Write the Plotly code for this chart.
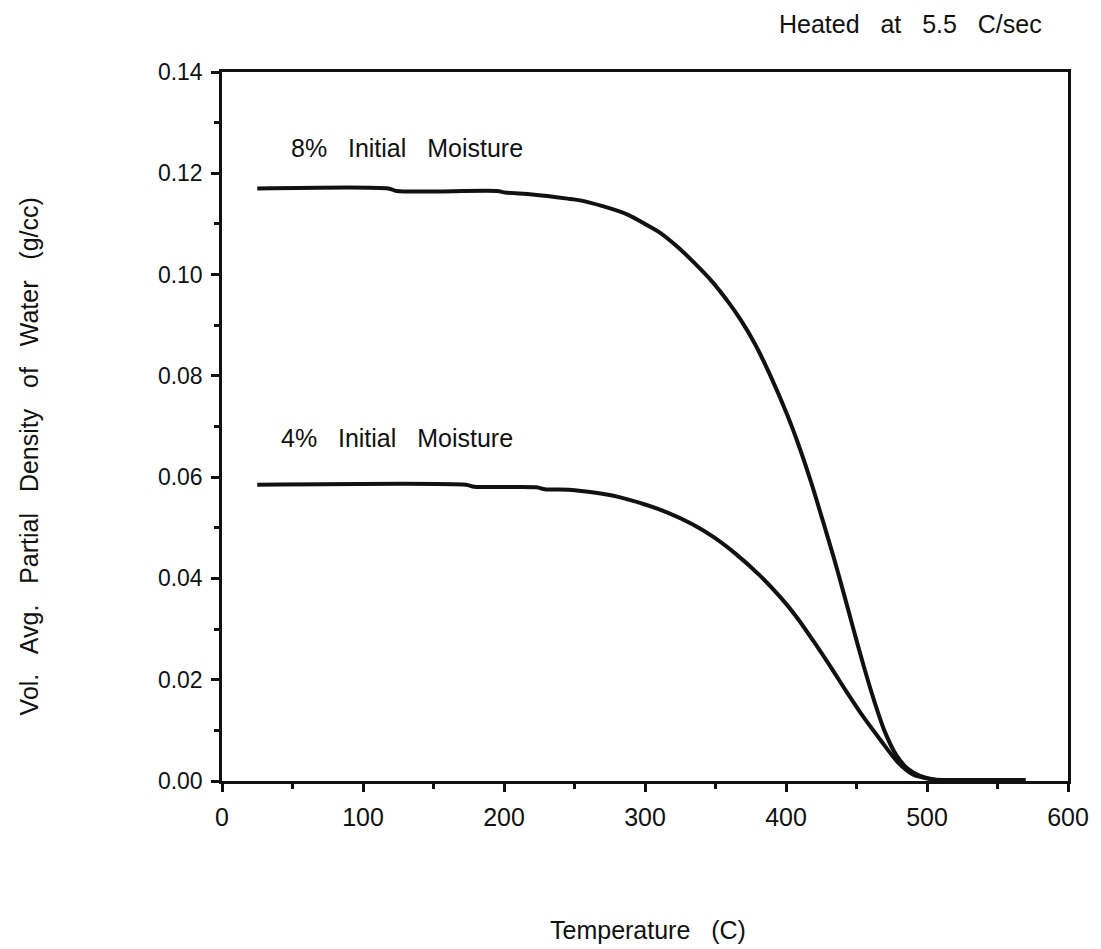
import plotly.graph_objects as go

# Temperature (C) and vol. avg. partial density of water (g/cc)
temp_8 = [25, 118, 124, 195, 201, 220, 245, 253, 270, 288, 300, 311, 323, 335, 347, 359, 368,
          378, 389, 401, 410, 418, 426, 434, 441, 448, 455, 462, 470, 478, 486, 495, 505, 520, 570]
dens_8 = [0.1170, 0.1170, 0.1165, 0.1165, 0.1162, 0.1158, 0.1150, 0.1147, 0.1135, 0.1118, 0.1100,
          0.1082, 0.1055, 0.1023, 0.0988, 0.0946, 0.0910, 0.0863, 0.0800, 0.0722, 0.0655,
          0.0588, 0.0515, 0.0440, 0.0370, 0.0298, 0.0228, 0.0163, 0.0098, 0.0052, 0.0025,
          0.0010, 0.0003, 0.0002, 0.0002]

temp_4 = [25, 173, 179, 223, 229, 246, 265, 281, 300, 316, 333, 349, 365, 381, 396, 408, 420,
          432, 443, 455, 467, 479, 490, 502, 512, 540]
dens_4 = [0.0585, 0.0585, 0.0581, 0.0580, 0.0576, 0.0575, 0.0569, 0.0561, 0.0546, 0.0530,
          0.0508, 0.0481, 0.0447, 0.0407, 0.0363, 0.0322, 0.0274, 0.0224, 0.0176, 0.0126,
          0.0081, 0.0038, 0.0013, 0.0004, 0.0001, 0.0001]

x_ticks = [0, 100, 200, 300, 400, 500, 600]
y_ticks = [0.00, 0.02, 0.04, 0.06, 0.08, 0.10, 0.12, 0.14]

FONT = "Liberation Sans, Arial, Helvetica, sans-serif"
INK = "#111111"

fig = go.Figure()
fig.add_trace(go.Scatter(x=temp_8, y=dens_8, mode="lines", name="8% Initial Moisture",
                         line=dict(color=INK, width=4, shape="spline", smoothing=0.8)))
fig.add_trace(go.Scatter(x=temp_4, y=dens_4, mode="lines", name="4% Initial Moisture",
                         line=dict(color=INK, width=4, shape="spline", smoothing=0.8)))

fig.add_annotation(x=131, y=0.1249, xanchor="center", text="8%   Initial   Moisture", showarrow=False,
                   font=dict(family=FONT, size=25, color=INK))
fig.add_annotation(x=124, y=0.0677, xanchor="center", text="4%   Initial   Moisture", showarrow=False,
                   font=dict(family=FONT, size=25, color=INK))
fig.add_annotation(xref="paper", yref="paper", x=0.814, y=1.0677, xanchor="center", yanchor="middle",
                   text="Heated   at   5.5   C/sec",
                   showarrow=False, font=dict(family=FONT, size=25, color=INK))
fig.add_annotation(xref="paper", yref="paper", x=0.503, y=-0.2102, xanchor="center", yanchor="middle",
                   text="Temperature   (C)",
                   showarrow=False, font=dict(family=FONT, size=25, color=INK))
fig.add_annotation(xref="paper", yref="paper", x=-0.228, y=0.458, xanchor="center",
                   yanchor="middle", textangle=-90,
                   text="Vol.   Avg.   Partial   Density   of   Water   (g/cc)",
                   showarrow=False, font=dict(family=FONT, size=25, color=INK))

fig.update_layout(
    width=1093, height=941,
    margin=dict(l=214, r=29, t=64, b=168),
    paper_bgcolor="white", plot_bgcolor="white",
    showlegend=False,
    font=dict(family=FONT, color=INK),
)
fig.update_xaxes(
    range=[0, 600], tickvals=x_ticks, ticktext=[str(v) for v in x_ticks],
    showgrid=False, zeroline=False,
    showline=True, linecolor=INK, linewidth=2.5, mirror=True,
    ticks="outside", ticklen=8, tickwidth=2.5, tickcolor=INK,
    minor=dict(ticks="outside", ticklen=5, tickwidth=2.5, tickcolor=INK, dtick=50, showgrid=False),
    tickfont=dict(family=FONT, size=25, color=INK),
    ticklabelstandoff=4,
)
fig.update_yaxes(
    range=[0, 0.14], tickvals=y_ticks, ticktext=[f"{v:.2f}" for v in y_ticks],
    showgrid=False, zeroline=False,
    showline=True, linecolor=INK, linewidth=2.5, mirror=True,
    ticks="outside", ticklen=8, tickwidth=2.5, tickcolor=INK,
    minor=dict(ticks="outside", ticklen=5, tickwidth=2.5, tickcolor=INK, dtick=0.01, showgrid=False),
    tickfont=dict(family=FONT, size=23, color=INK),
    ticklabelstandoff=4,
)

fig.write_html("out.html")
